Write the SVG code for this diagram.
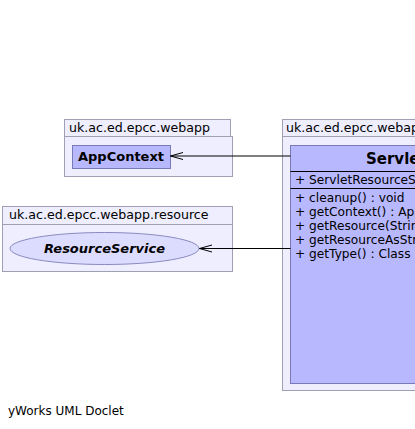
<svg xmlns="http://www.w3.org/2000/svg" width="415" height="429" viewBox="0 0 415 429">
<style>
.pkg{fill:#eeeeff;stroke:#a0a0b4;stroke-width:1}
.cls{fill:#b8b8ff;stroke:#7a7ab8;stroke-width:1}
.ell{fill:#dcdcff;stroke:#8a8ac0;stroke-width:1}
.pt{font-family:"DejaVu Sans",sans-serif;font-size:12.6px;fill:#000}
.mt{font-family:"DejaVu Sans",sans-serif;font-size:12.2px;fill:#000}
.conn{stroke:#000;stroke-width:1;fill:none}
</style>
<rect width="415" height="429" fill="#ffffff"/>
<g id="pkg-webapp">
<rect class="pkg" x="64.5" y="119.5" width="166" height="17"/>
<rect class="pkg" x="64.5" y="136.5" width="168" height="40"/>
<text class="pt" x="69" y="132">uk.ac.ed.epcc.webapp</text>
</g>
<g id="AppContext">
<rect class="cls" x="72.5" y="145.5" width="98" height="23"/>
<text x="78" y="161" style="font-family:'DejaVu Sans',sans-serif;font-size:13px;font-weight:bold">AppContext</text>
</g>
<g id="pkg-resource">
<rect class="pkg" x="2.5" y="206.5" width="230" height="18"/>
<rect class="pkg" x="2.5" y="224.5" width="230" height="47"/>
<text class="pt" x="9" y="219">uk.ac.ed.epcc.webapp.resource</text>
</g>
<g id="ResourceService">
<ellipse class="ell" cx="104.5" cy="248.5" rx="94.5" ry="16"/>
<text x="104.5" y="253" text-anchor="middle" style="font-family:'DejaVu Sans',sans-serif;font-size:13px;font-weight:bold;font-style:italic">ResourceService</text>
</g>
<g id="pkg-webapp-2">
<rect class="pkg" x="282.5" y="119.5" width="150" height="17"/>
<rect class="pkg" x="282.5" y="136.5" width="150" height="254"/>
<text class="pt" x="286" y="132">uk.ac.ed.epcc.webapp</text>
</g>
<g id="ServletResourceService">
<rect class="cls" x="290.5" y="145.5" width="140" height="238"/>
<line x1="290.5" y1="171.5" x2="430" y2="171.5" stroke="#000"/>
<line x1="290.5" y1="188.5" x2="430" y2="188.5" stroke="#000"/>
<text x="366" y="163.5" style="font-family:'DejaVu Sans',sans-serif;font-size:15px;font-weight:bold">ServletResourceService</text>
<text class="mt" x="295" y="184">+ ServletResourceService(AppContext)</text>
<text class="mt" x="295" y="202">+ cleanup() : void</text>
<text class="mt" x="295" y="216">+ getContext() : AppContext</text>
<text class="mt" x="295" y="230">+ getResource(String) : Object</text>
<text class="mt" x="295" y="244">+ getResourceAsStream(String) : InputStream</text>
<text class="mt" x="295" y="258">+ getType() : Class</text>
</g>
<g id="connectors">
<path class="conn" d="M290.5 156 H170.5 M183 152.5 L170.5 156 L183 159.5"/>
<path class="conn" d="M290.5 248.5 H199.5 M212 245 L199.5 248.5 L212 252"/>
</g>
<text x="8" y="415" style="font-family:'DejaVu Sans',sans-serif;font-size:12px">yWorks UML Doclet</text>
</svg>
